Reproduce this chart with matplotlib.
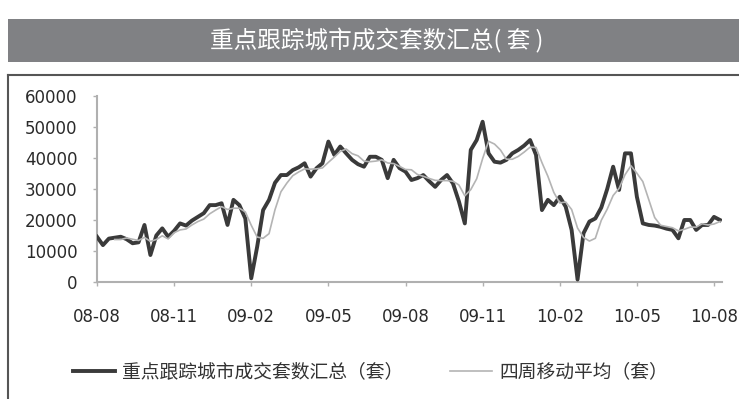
import matplotlib.pyplot as plt
from matplotlib.patches import Rectangle
from matplotlib.lines import Line2D

plt.rcParams['font.family'] = ['Noto Sans CJK SC', 'DejaVu Sans']

# weekly deals, thousands of units
weekly = [14.6, 11.9, 14.0, 14.3, 14.6, 13.8, 12.5, 12.8, 18.4, 8.7,
          15.0, 17.3, 14.6, 16.5, 18.9, 18.2, 19.8, 21.0, 22.2, 24.8,
          24.8, 25.4, 18.4, 26.5, 24.8, 20.5, 1.2, 11.4, 23.2, 26.5,
          32.0, 34.5, 34.5, 36.1, 37.0, 38.3, 34.0, 36.7, 38.3, 45.3,
          41.0, 43.7, 41.5, 39.4, 38.0, 37.2, 40.4, 40.4, 39.4, 33.5,
          39.4, 36.7, 35.6, 32.9, 33.5, 34.5, 32.5, 30.7, 32.9, 34.5,
          31.8, 26.0, 18.9, 42.6, 45.8, 51.7, 41.5, 38.8, 38.5, 39.4,
          41.5, 42.6, 44.0, 45.8, 41.0, 23.2, 26.5, 24.8, 27.5, 24.3,
          16.8, 0.8, 15.7, 19.5, 20.5, 24.0, 30.0, 37.2, 29.7, 41.5,
          41.5, 27.5, 18.9, 18.4, 18.2, 17.8, 17.2, 16.8, 14.1, 20.0,
          20.0, 16.8, 18.4, 18.4, 21.0, 20.0]

# four-week moving average as drawn (starts at week 3)
avg4 = [None, None, None, 13.7, 13.7, 14.2, 13.8, 13.4, 14.4, 13.1,
        13.7, 14.9, 13.9, 15.9, 16.8, 17.1, 18.4, 19.5, 20.3, 22.0,
        23.2, 24.3, 23.4, 23.8, 23.8, 22.6, 18.3, 14.5, 14.1, 15.6,
        23.3, 29.1, 31.9, 34.3, 35.5, 36.5, 36.4, 36.5, 36.8, 38.6,
        40.3, 42.1, 42.9, 41.4, 40.7, 39.0, 38.8, 39.0, 39.4, 38.4,
        38.2, 37.3, 36.3, 36.2, 34.7, 34.1, 33.4, 32.8, 32.7, 32.7,
        32.5, 31.3, 27.8, 29.8, 33.3, 39.8, 45.4, 44.5, 42.6, 39.6,
        39.6, 40.5, 41.9, 43.5, 43.4, 38.5, 34.1, 28.9, 25.5, 25.8,
        23.4, 17.4, 14.4, 13.2, 14.1, 19.9, 23.5, 27.9, 30.2, 34.6,
        37.5, 35.1, 32.4, 26.6, 20.8, 18.3, 17.9, 17.5, 16.5, 17.0,
        17.7, 17.7, 18.8, 18.4, 18.7, 19.5]

tick_weeks = [0, 13, 26, 39, 52, 65, 78, 91, 104]
tick_labels = ['08-08', '08-11', '09-02', '09-05', '09-08', '09-11', '10-02', '10-05', '10-08']
y_ticks = [0, 10000, 20000, 30000, 40000, 50000, 60000]

title = '重点跟踪城市成交套数汇总( 套 )'
name_total = '重点跟踪城市成交套数汇总（套）'
name_avg = '四周移动平均（套）'

W, H = 739, 399
fig = plt.figure(figsize=(W / 100, H / 100), dpi=100)

# grey title bar and chart frame
fig.add_artist(Rectangle((8 / W, 1 - 62 / H), 1 - 8 / W, 43 / H,
                         transform=fig.transFigure, facecolor='#808184', edgecolor='none'))
fig.text(377 / W, 1 - 41 / H, title, color='white', fontsize=17, ha='center', va='center')
fig.add_artist(Line2D([8 / W, 1], [1 - 75 / H, 1 - 75 / H], transform=fig.transFigure,
                      color='#555555', lw=1.5))
fig.add_artist(Line2D([8 / W, 8 / W], [0, 1 - 75 / H], transform=fig.transFigure,
                      color='#555555', lw=1.5))

ax = fig.add_axes([97 / W, 1 - 282 / H, 625 / W, 186 / H])
x = list(range(len(weekly)))
ax.plot(x, [v * 1000 for v in weekly], color='#3a3a3a', lw=2.8, label=name_total, zorder=3)
ax.plot(x, [v * 1000 if v is not None else None for v in avg4], color='#b4b4b4', lw=1.2,
        label=name_avg, zorder=4)

ax.set_xlim(0, 625 / (617 / 104))
ax.set_ylim(0, 60000)
ax.set_xticks(tick_weeks)
ax.set_xticklabels(tick_labels, family='DejaVu Sans')
ax.set_yticks(y_ticks)
ax.set_yticklabels([str(v) for v in y_ticks], family='DejaVu Sans')
ax.tick_params(axis='x', length=3, width=1, color='#b0b0b0', pad=15.5, labelsize=12, labelcolor='#2a2a2a')
ax.tick_params(axis='y', length=3, width=1, color='#b0b0b0', pad=11, labelsize=12, labelcolor='#2a2a2a')
for side in ['top', 'right']:
    ax.spines[side].set_visible(False)
for side in ['left', 'bottom']:
    ax.spines[side].set_color('#b0b0b0')
    ax.spines[side].set_linewidth(1.5)

handles = [Line2D([], [], color='#3a3a3a', lw=2.8), Line2D([], [], color='#b4b4b4', lw=1.2)]
fig.legend(handles, [name_total, name_avg], loc='center left', bbox_to_anchor=(73 / W, 1 - 372 / H),
           ncol=2, frameon=False, fontsize=13.5, handlelength=2.25, handletextpad=0.37,
           columnspacing=2.5, borderpad=0, borderaxespad=0, labelcolor='#333333')

fig.savefig('out.png', dpi=100)
